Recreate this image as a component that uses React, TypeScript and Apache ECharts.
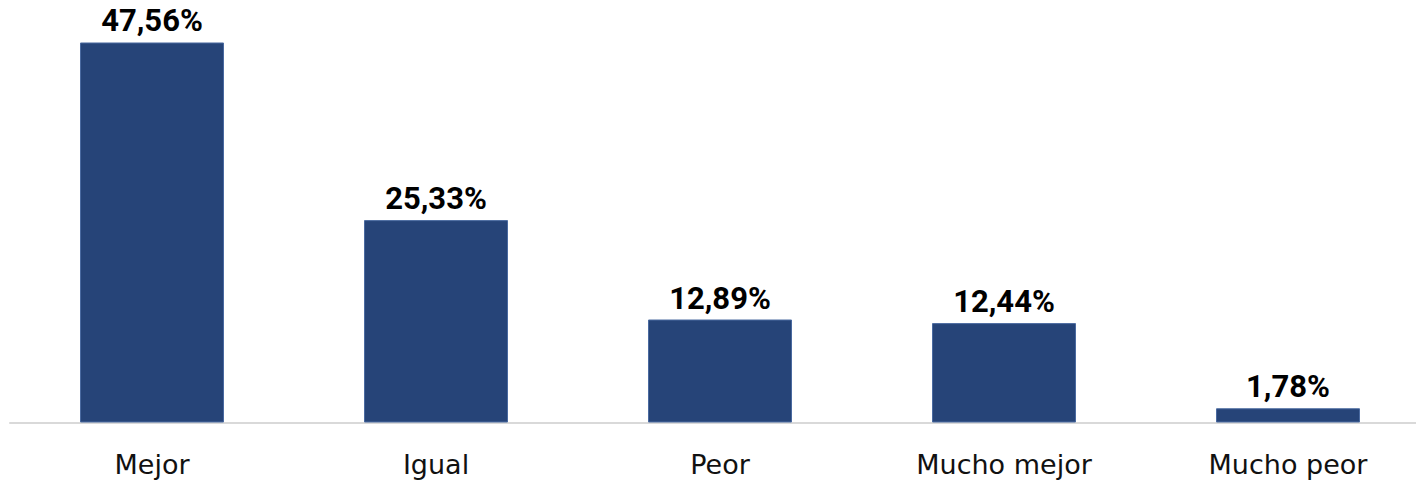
import React, { useEffect, useRef } from "react";
import * as echarts from "echarts";

const categories = ["Mejor", "Igual", "Peor", "Mucho mejor", "Mucho peor"];
const values = [47.56, 25.33, 12.89, 12.44, 1.78];

export default function App() {
  const ref = useRef<HTMLDivElement>(null);
  useEffect(() => {
    if (!ref.current) return;
    const chart = echarts.init(ref.current, undefined, { renderer: "svg" });
    chart.setOption({
      animation: false,
      grid: {
        left: 10,
        width: 1420,
        top: 23,
        bottom: 60.5,
        containLabel: false,
        outerBoundsMode: "none",
      },
      xAxis: {
        type: "category",
        data: categories,
        axisLine: { lineStyle: { color: "#d9d9d9", width: 2 } },
        axisTick: { show: false },
        axisLabel: {
          color: "#111",
          fontSize: 27,
          fontFamily: "'DejaVu Sans', sans-serif",
          margin: 28,
        },
      },
      yAxis: {
        type: "value",
        min: 0,
        max: 50,
        show: false,
        splitLine: { show: false },
      },
      series: [
        {
          type: "bar",
          data: values,
          barWidth: 144,
          itemStyle: { color: "#264478", borderColor: "#4a6aa0", borderWidth: 1 },
          label: {
            show: true,
            position: "top",
            distance: 6,
            color: "#000",
            fontSize: 31,
            fontWeight: "bold",
            fontFamily: "Roboto, sans-serif",
            formatter: (p: any) => p.value.toFixed(2).replace(".", ",") + "%",
          },
        },
      ],
    });
    return () => chart.dispose();
  }, []);
  return (
    <div
      ref={ref}
      style={{ position: "fixed", left: 0, top: 0, width: 1416, height: 483, background: "#fff", overflow: "hidden" }}
    />
  );
}
